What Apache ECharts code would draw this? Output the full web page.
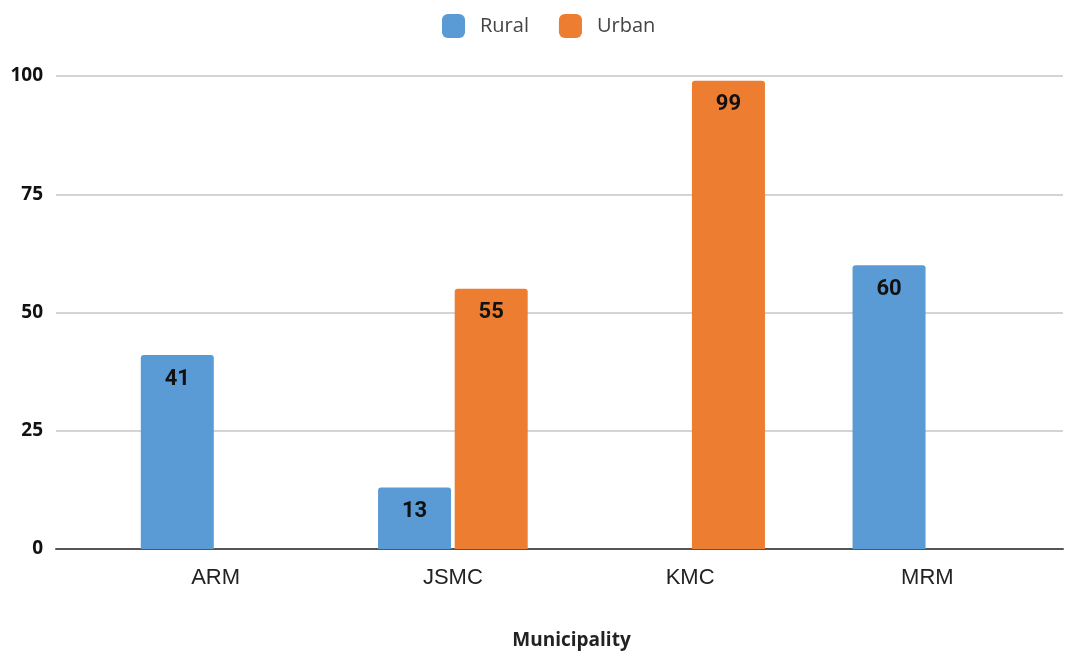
<!DOCTYPE html>
<html>
<head>
<meta charset="utf-8">
<script src="https://cdn.jsdelivr.net/npm/echarts@6/dist/echarts.min.js"></script>
<style>
  html, body { margin: 0; padding: 0; background: #ffffff; }
  #chart { width: 1078px; height: 652px; }
</style>
</head>
<body>
<div id="chart"></div>
<script>
// Municipalities on the x axis
const municipalities = ['ARM', 'JSMC', 'KMC', 'MRM'];
// Counts per municipality (null = no bar)
const ruralValues = [41, 13, null, 60];
const urbanValues = [null, 55, 99, null];
// Value axis ticks
const yTicks = [0, 25, 50, 75, 100];

const labelStyle = {
  show: true,
  position: 'insideTop',
  distance: 13,
  color: '#111111',
  fontFamily: 'Roboto',
  fontWeight: 'bold',
  fontSize: 22
};

const chart = echarts.init(document.getElementById('chart'), null, { renderer: 'canvas' });

chart.setOption({
  animation: false,
  backgroundColor: '#ffffff',
  legend: {
    top: 9,
    left: 437,
    itemWidth: 23,
    itemHeight: 24,
    itemGap: 30,
    icon: 'roundRect',
    textStyle: { fontFamily: 'Open Sans', fontSize: 20, color: '#444444', padding: [0, 0, 0, 10] },
    data: ['Rural', 'Urban']
  },
  grid: [
    // frame grid: gridlines and baseline across the full width
    { left: 56, right: 15, top: 76, bottom: 103, containLabel: false, outerBoundsMode: 'none' },
    // bar grid: categories placed inside the frame
    { left: 97, right: 32, top: 76, bottom: 103, containLabel: false, outerBoundsMode: 'none' }
  ],
  xAxis: [
    {
      gridIndex: 0,
      type: 'category',
      data: municipalities,
      axisLine: { show: true, lineStyle: { color: '#555555', width: 2 } },
      axisTick: { show: false },
      axisLabel: { show: false }
    },
    {
      gridIndex: 1,
      type: 'category',
      data: municipalities,
      axisLine: { show: false },
      axisTick: { show: false },
      axisLabel: { fontFamily: 'Liberation Sans', fontSize: 22, color: '#222222', margin: 18 },
      name: 'Municipality',
      nameLocation: 'middle',
      nameGap: 82,
      nameTextStyle: { fontFamily: 'Open Sans', fontWeight: 'bold', fontSize: 19, color: '#222222' }
    }
  ],
  yAxis: [
    {
      gridIndex: 0,
      type: 'value',
      min: yTicks[0],
      max: yTicks[yTicks.length - 1],
      interval: 25,
      axisLine: { show: false },
      axisTick: { show: false },
      splitLine: { lineStyle: { color: '#d4d4d4', width: 2 } },
      axisLabel: { fontFamily: 'Open Sans', fontWeight: 'bold', fontSize: 19, color: '#111111', margin: 13 }
    },
    {
      gridIndex: 1,
      type: 'value',
      min: yTicks[0],
      max: yTicks[yTicks.length - 1],
      interval: 25,
      show: false,
      splitLine: { show: false }
    }
  ],
  series: [
    {
      name: 'Rural',
      type: 'bar',
      xAxisIndex: 1,
      yAxisIndex: 1,
      data: ruralValues,
      barWidth: 73,
      barGap: '5%',
      itemStyle: { color: '#5b9bd5', borderRadius: [3, 3, 0, 0] },
      label: labelStyle
    },
    {
      name: 'Urban',
      type: 'bar',
      xAxisIndex: 1,
      yAxisIndex: 1,
      data: urbanValues,
      barWidth: 73,
      barGap: '5%',
      itemStyle: { color: '#ed7d31', borderRadius: [3, 3, 0, 0] },
      label: labelStyle
    }
  ]
});
</script>
</body>
</html>
